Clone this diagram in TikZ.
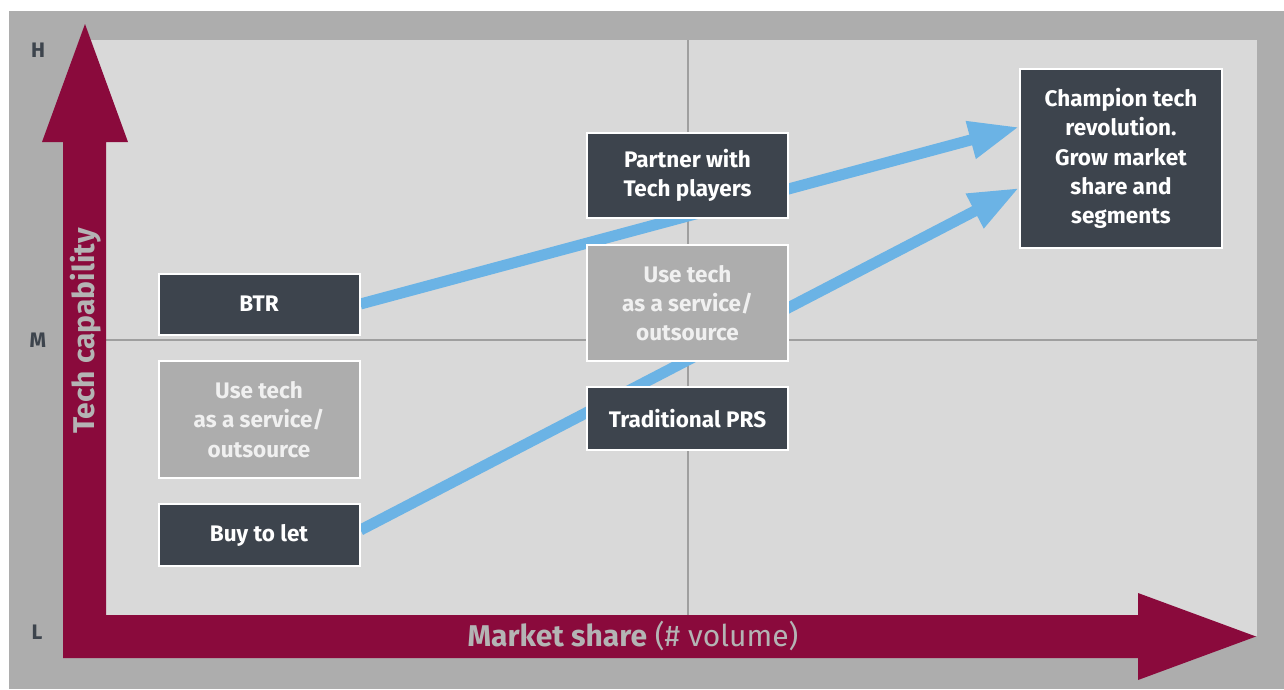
\documentclass[tikz,border=0pt]{standalone}
\usepackage{fontspec}
\setmainfont{Fira Sans}
\usetikzlibrary{arrows.meta}
\definecolor{maroon}{RGB}{138,10,60}
\definecolor{slate}{RGB}{61,68,77}
\definecolor{frame}{RGB}{173,173,173}
\definecolor{field}{RGB}{217,217,217}
\definecolor{sky}{RGB}{107,179,229}
\definecolor{axistext}{RGB}{180,180,180}
\pgfdeclarelayer{back}
\pgfdeclarelayer{flows}
\pgfsetlayers{back,flows,main}

\begin{document}
\begin{tikzpicture}[x=1pt, y=-1pt,
    box/.style={draw=white, line width=2pt, fill=slate, text=white, align=center, inner sep=0pt,
        minimum width=201pt, font=\bfseries\fontsize{22.5}{29.3}\selectfont},
    softbox/.style={box, fill=frame, text=white!94!black},
    level/.style={text=slate, font=\bfseries\fontsize{21}{24}\selectfont},
    flow/.style={sky, line width=11pt, -{Triangle[length=50pt, width=36pt]}},
    quad/.style={frame!92!black, line width=1.5pt}]
    \useasboundingbox (0,0) rectangle (1284,689);

    \node[box, minimum height=61pt](btr) at (259,304) {BTR};
    \node[softbox, minimum height=117pt](usetechl) at (259,419.5) {Use tech\\as a service/\\outsource};
    \node[box, minimum height=62pt](buytolet) at (259,535) {Buy to let};
    \node[box, minimum height=85pt](partner) at (687.5,175.5) {Partner with\\Tech players};
    \node[softbox, minimum height=116pt](usetechm) at (687.5,303) {Use tech\\as a service/\\outsource};
    \node[box, minimum height=63pt](prs) at (687.5,418.5) {Traditional PRS};
    \node[box, minimum width=202pt, minimum height=179pt](champion) at (1121,158.5) {Champion tech\\revolution.\\Grow market\\share and\\segments};

    \begin{pgfonlayer}{flows}
        \draw[flow](btr.east)--([yshift=31.5pt]champion.west);
        \draw[flow]([yshift=5pt]buytolet.east)--([yshift=-29.5pt]champion.west);
    \end{pgfonlayer}

    \begin{pgfonlayer}{back}
        \fill[frame](9,11) rectangle (1284,689);
        \fill[field](85,40) rectangle (1257,636);
        \draw[quad](688,40)--(688,615);
        \draw[quad](106,340)--(1257,340);
        \fill[maroon](63,658)--(63,142)--(42,142)--(85,24)--(128,142)--(106,142)--(106,615)
            --(1138,615)--(1138,593)--(1256,636.5)--(1138,680)--(1138,658)--cycle;
    \end{pgfonlayer}

    \node[level](high) at (38,50) {H};
    \node[level](medium) at (38,340) {M};
    \node[level](low) at (37,632) {L};
    \node[rotate=90, text=axistext, font=\bfseries\fontsize{30}{32}\selectfont](ylabel) at (86,331) {Tech capability};
    \node[text=axistext, font=\fontsize{30}{32}\selectfont](xlabel) at (633,636) {\textbf{Market share} (\# volume)};
\end{tikzpicture}
\end{document}
